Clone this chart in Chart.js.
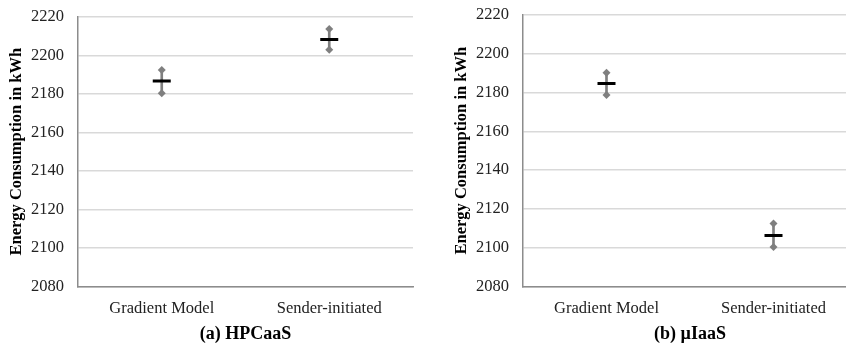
<!DOCTYPE html>
<html>
<head>
<meta charset="utf-8">
<script src="https://cdn.jsdelivr.net/npm/chart.js@4.4.0/dist/chart.umd.min.js"></script>
<style>
    html, body { margin: 0; padding: 0; background: #fff; overflow: hidden; }
    body { width: 846px; height: 346px; position: relative; }
    .panel { position: absolute; top: 0; height: 346px; }
    #panel-a { left: 0; width: 420px; }
    #panel-b { left: 420px; width: 440px; }
</style>
</head>
<body>
<div class="panel" id="panel-a"><canvas id="chart-a"></canvas></div>
<div class="panel" id="panel-b"><canvas id="chart-b"></canvas></div>
<script>
const categories = ['Gradient Model', 'Sender-initiated'];
const yTicks = [2080, 2100, 2120, 2140, 2160, 2180, 2200, 2220];

// (a) HPCaaS
const hpcMax = [2192.4, 2213.7];
const hpcMean = [2186.8, 2208.3];
const hpcMin = [2180.4, 2203.0];

// (b) µIaaS
const iaasMax = [2190.2, 2112.4];
const iaasMean = [2184.7, 2106.3];
const iaasMin = [2178.7, 2100.3];

const serif = '"Liberation Serif", "Times New Roman", serif';
const gray = '#7f7f7f';

function buildChart(id, title, maxVals, meanVals, minVals, opt) {
    const range = minVals.map((v, i) => [v, maxVals[i]]);
    const config = {
        type: 'bar',
        data: {
            labels: categories,
            datasets: [
                {
                    type: 'line',
                    label: 'Mean',
                    data: meanVals,
                    showLine: false,
                    pointStyle: 'line',
                    pointRadius: 9,
                    pointBorderWidth: 3,
                    borderColor: '#000',
                    backgroundColor: '#000',
                    order: 0
                },
                {
                    type: 'line',
                    label: 'Max',
                    data: maxVals,
                    showLine: false,
                    pointStyle: 'rectRot',
                    pointRadius: 4,
                    pointBorderWidth: 0,
                    borderColor: gray,
                    backgroundColor: gray,
                    order: 1
                },
                {
                    type: 'line',
                    label: 'Min',
                    data: minVals,
                    showLine: false,
                    pointStyle: 'rectRot',
                    pointRadius: 4,
                    pointBorderWidth: 0,
                    borderColor: gray,
                    backgroundColor: gray,
                    order: 1
                },
                {
                    label: 'Range',
                    data: range,
                    barThickness: 2,
                    backgroundColor: gray,
                    borderWidth: 0,
                    order: 2
                }
            ]
        },
        options: {
            responsive: true,
            maintainAspectRatio: false,
            animation: false,
            layout: {
                autoPadding: false,
                padding: { top: opt.top, right: opt.right, left: 0, bottom: 0 }
            },
            plugins: {
                legend: { display: false },
                tooltip: { enabled: false },
                title: {
                    display: true,
                    text: title,
                    position: 'bottom',
                    fullSize: false,
                    color: '#000',
                    font: { family: serif, size: 18, weight: 'bold' },
                    padding: { top: 4, bottom: 1 }
                }
            },
            scales: {
                x: {
                    offset: true,
                    grid: { display: false, drawTicks: false },
                    border: { display: true, color: '#8c8c8c', width: 1.5 },
                    ticks: {
                        color: '#222',
                        font: { family: serif, size: 16.5 },
                        padding: 12,
                        maxRotation: 0
                    },
                    afterFit: s => { s.height = 33; }
                },
                y: {
                    min: 2080,
                    max: 2220,
                    afterBuildTicks: s => { s.ticks = yTicks.map(v => ({ value: v })); },
                    grid: { color: '#d9d9d9', lineWidth: 1.5, drawTicks: false },
                    border: { display: true, color: '#8c8c8c', width: 1.5 },
                    ticks: {
                        color: '#222',
                        font: { family: serif, size: 16.5 },
                        padding: 14,
                        callback: v => String(v)
                    },
                    title: {
                        display: true,
                        text: 'Energy Consumption in kWh',
                        color: '#000',
                        font: { family: serif, size: 16.5, weight: 'bold' },
                        padding: { top: opt.titlePad, bottom: 0 }
                    },
                    afterFit: s => {
                        s.width = opt.axisWidth;
                        s.paddingTop = 10;
                        s.paddingBottom = 10;
                    }
                }
            }
        }
    };
    return new Chart(document.getElementById(id), config);
}

buildChart('chart-a', '(a) HPCaaS', hpcMax, hpcMean, hpcMin,
    { top: 17, right: 7, axisWidth: 78, titlePad: 7 });
buildChart('chart-b', '(b) µIaaS', iaasMax, iaasMean, iaasMin,
    { top: 15, right: 3, axisWidth: 103, titlePad: 32 });
</script>
</body>
</html>
